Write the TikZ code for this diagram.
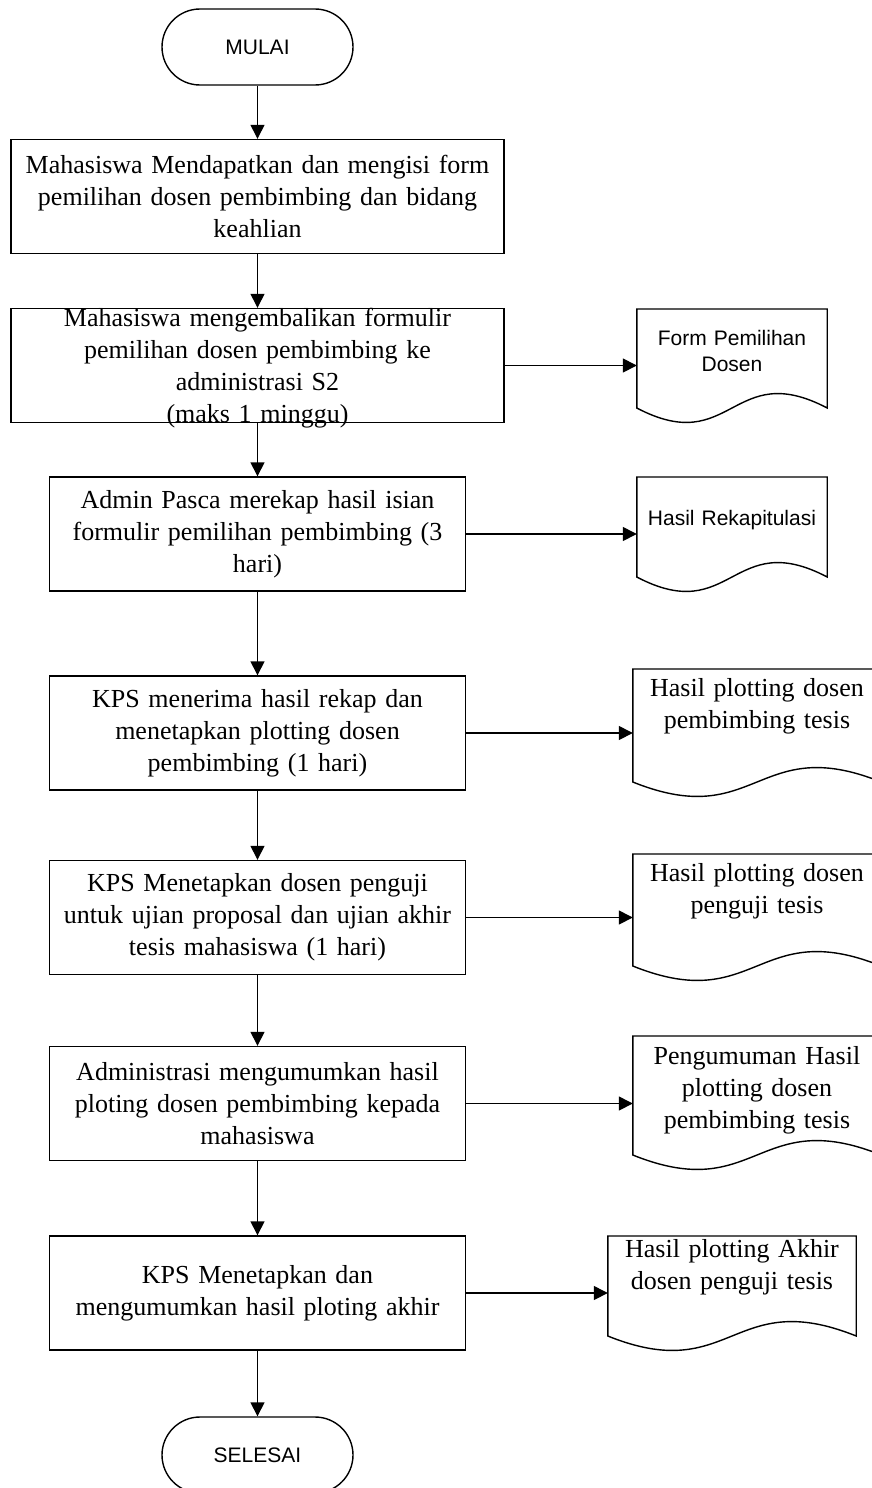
\documentclass[tikz,border=0pt]{standalone}
\usepackage{fontspec}
\setmainfont{Liberation Serif}
\setsansfont{Liberation Sans}
\usetikzlibrary{arrows.meta}

\tikzset{
  flowline/.style={line width=1.4pt},
  flowarrow/.style={flowline, -{Triangle[length=14pt,width=14pt]}},
  terminal/.style={draw, flowline, rounded corners=38pt, minimum width=191pt, minimum height=76pt, font=\sffamily\fontsize{21}{26}\selectfont},
  procbox/.style={draw, flowline, minimum height=114pt, inner sep=0pt, align=center, font=\fontsize{26}{32}\selectfont},
  docnode/.style={inner sep=0pt, align=center, font=\fontsize{26}{32}\selectfont},
  docsans/.style={docnode, font=\sffamily\fontsize{21}{26}\selectfont},
}

% document outline: node, height above centre, side height below centre
\newcommand{\docwave}[3]{%
  \draw[flowline] ([yshift=-#3]#1.west) -- ([yshift=#2]#1.west) -- ([yshift=#2]#1.east) -- ([yshift=-#3]#1.east)
    .. controls ([yshift=-#3+50pt]#1.center) and ([yshift=-#3-50pt]#1.center) .. cycle;}

\begin{document}
\begin{tikzpicture}[x=1pt, y=1pt]
  \useasboundingbox (0,0) rectangle (871,-1488);

  % Start and end
  \node[terminal] (mulai) at (257.5,-47) {MULAI};
  \node[terminal] (selesai) at (257.5,-1455) {SELESAI};

  % Process steps
  \node[procbox, minimum width=493pt, text width=480pt] (isi) at (257.5,-196.5)
    {Mahasiswa Mendapatkan dan mengisi form\\pemilihan dosen pembimbing dan bidang\\keahlian};
  \node[procbox, minimum width=493pt, text width=480pt, text height=17pt, text depth=96pt] (kembali) at (257.5,-365.5)
    {Mahasiswa mengembalikan formulir\\pemilihan dosen pembimbing ke\\administrasi S2\\(maks 1 minggu)};
  \node[procbox, minimum width=416pt, text width=400pt] (rekap) at (257.5,-534)
    {Admin Pasca merekap hasil isian\\formulir pemilihan pembimbing (3\\hari)};
  \node[procbox, minimum width=416pt, text width=400pt] (bimbing) at (257.5,-733)
    {KPS menerima hasil rekap dan\\menetapkan plotting dosen\\pembimbing (1 hari)};
  \node[procbox, minimum width=416pt, text width=400pt] (uji) at (257.5,-917.5)
    {KPS Menetapkan dosen penguji\\untuk ujian proposal dan ujian akhir\\tesis mahasiswa (1 hari)};
  \node[procbox, minimum width=416pt, text width=400pt] (umum) at (257.5,-1103.5)
    {Administrasi mengumumkan hasil\\ploting dosen pembimbing kepada\\mahasiswa};
  \node[procbox, minimum width=416pt, text width=400pt] (akhir) at (257.5,-1293)
    {KPS Menetapkan dan\\mengumumkan hasil ploting akhir};

  % Documents
  \node[docsans, minimum width=190pt, text width=180pt] (dform) at (732,-351) {Form Pemilihan\\Dosen};
  \node[docsans, minimum width=190pt, text width=180pt] (drekap) at (732,-520) {Hasil Rekapitulasi};
  \node[docnode, minimum width=248pt, text width=230pt] (dbimbing) at (757,-706) {Hasil plotting dosen\\pembimbing tesis};
  \node[docnode, minimum width=248pt, text width=230pt] (duji) at (757,-891) {Hasil plotting dosen\\penguji tesis};
  \node[docnode, minimum width=248pt, text width=230pt] (dumum) at (757,-1090) {Pengumuman Hasil\\plotting dosen\\pembimbing tesis};
  \node[docnode, minimum width=248pt, text width=230pt] (dakhir) at (732,-1267.5) {Hasil plotting Akhir\\dosen penguji tesis};

  \docwave{dform}{42pt}{57pt}
  \docwave{drekap}{43pt}{57pt}
  \docwave{dbimbing}{37pt}{76pt}
  \docwave{duji}{37pt}{75pt}
  \docwave{dumum}{54pt}{65pt}
  \docwave{dakhir}{31.5pt}{68.5pt}

  % Main flow
  \draw[flowarrow] (mulai) -- (isi);
  \draw[flowarrow] (isi) -- (kembali);
  \draw[flowarrow] (kembali) -- (rekap);
  \draw[flowarrow] (rekap) -- (bimbing);
  \draw[flowarrow] (bimbing) -- (uji);
  \draw[flowarrow] (uji) -- (umum);
  \draw[flowarrow] (umum) -- (akhir);
  \draw[flowarrow] (akhir) -- (selesai);

  % Outputs
  \draw[flowarrow] (kembali.east) -- (kembali.east -| dform.west);
  \draw[flowarrow] (rekap.east) -- (rekap.east -| drekap.west);
  \draw[flowarrow] (bimbing.east) -- (bimbing.east -| dbimbing.west);
  \draw[flowarrow] (uji.east) -- (uji.east -| duji.west);
  \draw[flowarrow] (umum.east) -- (umum.east -| dumum.west);
  \draw[flowarrow] (akhir.east) -- (akhir.east -| dakhir.west);
\end{tikzpicture}
\end{document}
